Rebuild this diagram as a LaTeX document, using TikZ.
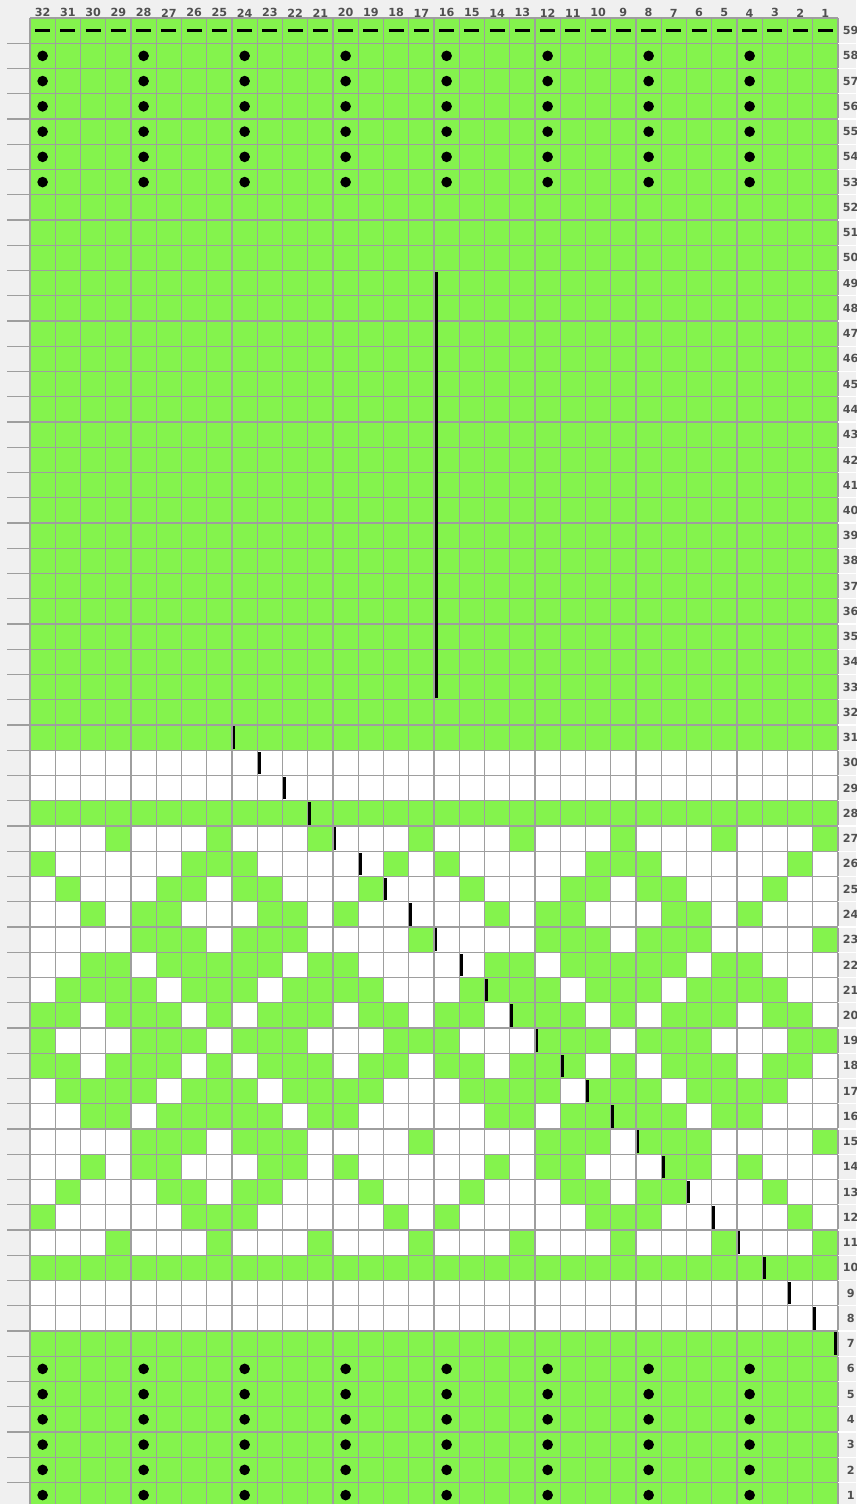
\documentclass[tikz,border=0pt]{standalone}
\usepackage{fontspec}
\setmainfont{DejaVu Sans}
\usepackage{tikz}
\usetikzlibrary{positioning}
\definecolor{knitgreen}{RGB}{132,243,77}
\definecolor{gridgray}{RGB}{158,158,158}
\definecolor{panelgray}{RGB}{240,240,240}
\definecolor{labelgray}{RGB}{80,80,80}

\tikzset{
  lbl/.style={font=\fontsize{6.3}{7}\selectfont\bfseries, text=labelgray, inner sep=0pt},
  gridline/.style={draw=gridgray, line width=0.6pt},
  purlbar/.style={line width=1.5pt},
  knitdash/.style={line width=1.6pt},
}

\begin{document}
\begin{tikzpicture}[x=0.5cm, y=0.5cm]
        \useasboundingbox (-1.188,0.149) rectangle (32.713,59.713);
        \fill[panelgray] (-1.188,0.149) rectangle (32.713,59.713);

        % chart cells
        \fill[white] (0,0) rectangle (32,59);
        \fill[knitgreen] (0,0) rectangle (32,7);
        \fill[knitgreen] (0,9) rectangle (32,10);
        \fill[knitgreen] (0,27) rectangle (32,28);
        \fill[knitgreen] (0,30) rectangle (32,59);

        % pattern band, rows 11-27 mirrored about row 19
        \foreach \r/\cols in {11/{13,9,5,1}, 12/{16,10,9,8,2}, 13/{15,11,10,8,7,3},
                14/{14,12,11,7,6,4}, 15/{12,11,10,8,7,6,1}, 16/{14,13,11,10,9,8,7,5,4},
                17/{15,14,13,12,10,9,8,6,5,4,3}, 18/{16,15,13,12,11,9,7,6,5,3,2},
                19/{16,12,11,10,8,7,6,2,1}}
        {
            \foreach \p in \cols
            \foreach \k in {0,16}
            {
                \fill[knitgreen] (32-\p-\k,\r-1) rectangle ++(1,1);
                \fill[knitgreen] (32-\p-\k,37-\r) rectangle ++(1,1);
            }
        }

        % grid
        \foreach \i in {0,...,32}
            \draw[gridline] (\i,0) -- (\i,59);
        \foreach \j in {0,...,59}
            \draw[gridline] (0,\j) -- (32,\j);
        \foreach \j in {0,...,58}
        {
            \draw[gridline] (-0.91,\j) -- (0,\j);
            \draw[white, line width=0.6pt] (32,\j) -- (32.713,\j);
        }

        % dots and dashes
        \foreach \r in {1,...,6,53,54,...,58}
            \foreach \i in {0,4,...,28}
                \fill (\i+0.5,\r-0.5) circle (0.21);
        \foreach \i in {0,...,31}
            \draw[knitdash] (\i+0.2,58.5) -- (\i+0.8,58.5);

        % bars
        \draw[purlbar] (16.1,32.05) -- (16.1,48.95);
        \foreach \r in {8,...,31}
            \draw[purlbar] (39-\r+0.08,\r-0.95) -- (39-\r+0.08,\r-0.05);
        \draw[purlbar] (31.9,6.05) -- (31.9,6.95);

        % labels
        \foreach \c in {1,...,32}
            \node[lbl] (col\c) at (32-\c+0.5,59.2) {\c};
        \foreach \r in {1,...,59}
            \node[lbl] (row\r) at (32.5,\r-0.5) {\r};
\end{tikzpicture}
\end{document}
